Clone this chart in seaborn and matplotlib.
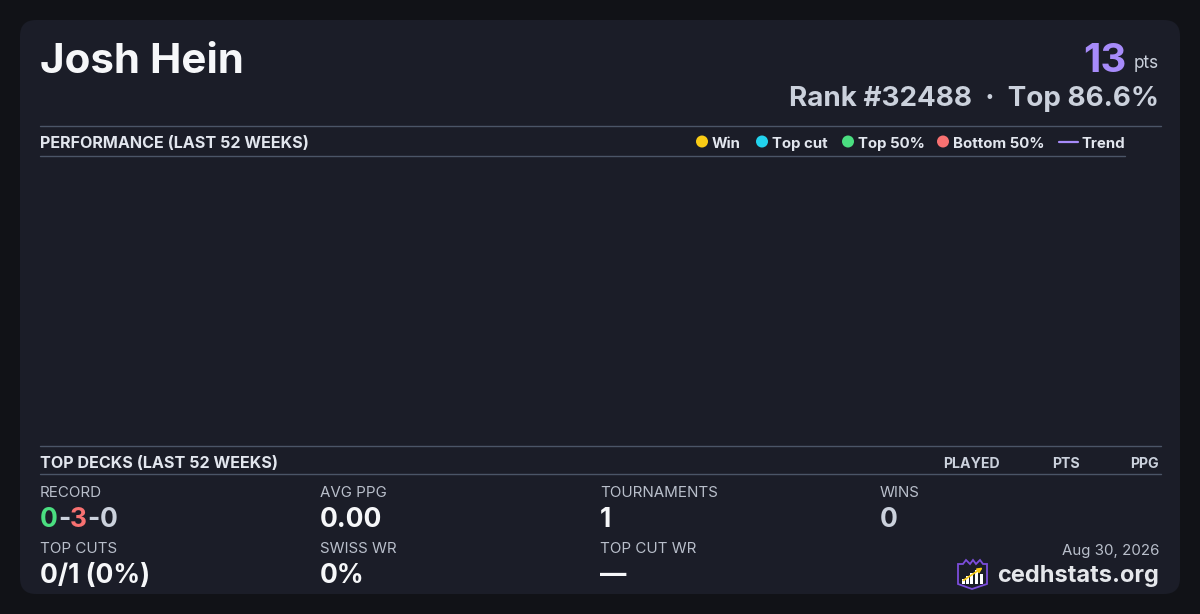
import numpy as np
import pandas as pd
import seaborn as sns
import matplotlib.pyplot as plt
from matplotlib.patches import FancyBboxPatch, Circle, Polygon, Rectangle

sns.set_theme(style="dark")
plt.rcParams['font.family'] = ['Inter', 'DejaVu Sans']

player_name = "Josh Hein"
points = 13
rank = 32488
top_pct = 86.6
card_date = "Aug 30, 2026"

# performance chart (nothing plotted in the last 52 weeks)
perf_weeks = []
perf_points = []

legend_labels = ["Win", "Top cut", "Top 50%", "Bottom 50%"]
legend_colors = ["#facc15", "#22d3ee", "#4ade80", "#f87171"]
trend_color = "#a78bfa"

deck_columns = ["PLAYED", "PTS", "PPG"]

record = [0, 3, 0]  # wins - losses - draws
record_colors = ["#4ade80", "#f87171", "#cbd1dc"]
stat_labels = ["AVG PPG", "TOURNAMENTS", "WINS", "TOP CUTS", "SWISS WR", "TOP CUT WR"]
stat_values = ["0.00", "1", "0", "0/1 (0%)", "0%", "\u2014"]

bg = "#111217"
card = "#1b1d28"
line_col = "#4b5567"
muted = "#b9bfcb"
light = "#cbd1dc"
white = "#f6f7f9"

fig = plt.figure(figsize=(12, 6.14), dpi=100, facecolor=bg)
ax = fig.add_axes([0, 0, 1, 1])
ax.set_xlim(0, 1200)
ax.set_ylim(614, 0)
ax.axis("off")

ax.add_patch(FancyBboxPatch((20, 20), 1160, 574, boxstyle="round,pad=0,rounding_size=16",
                            facecolor=card, edgecolor="none"))

# header
ax.text(40, 73, player_name, fontsize=30.3, fontweight="bold", color=white, va="baseline")
ax.text(1159, 68, "pts", fontsize=12.3, color=light, ha="right", va="baseline")
ax.text(1127, 72, str(points), fontsize=29, fontweight="bold", color=trend_color,
        ha="right", va="baseline")
ax.text(1159, 106, f"Rank #{rank}  \u00b7  Top {top_pct}%", fontsize=20, fontweight="bold",
        color=light, ha="right", va="baseline")

# performance section
ax.plot([40, 1161], [126, 126], color=line_col, lw=1)
ax.plot([40, 1125], [156, 156], color=line_col, lw=1)
ax.text(40, 148, "PERFORMANCE (LAST 52 WEEKS)", fontsize=11.6, fontweight="bold",
        color="#e2e6ee", va="baseline")

legend_x = [702, 762, 848, 943]
for lx, lab, col in zip(legend_x, legend_labels, legend_colors):
    ax.add_patch(Circle((lx, 141.5), 6, facecolor=col, edgecolor="none"))
    ax.text(lx + 10, 148, lab, fontsize=10.8, fontweight="bold", color="#e2e6ee", va="baseline")
ax.plot([1059, 1078], [142, 142], color=trend_color, lw=1.6)
ax.text(1081, 148, "Trend", fontsize=10.8, fontweight="bold", color="#e2e6ee", va="baseline")

# empty performance plot area
pax = fig.add_axes([40 / 1200, (614 - 440) / 614, 1085 / 1200, 275 / 614])
pax.set_facecolor(card)
perf = pd.DataFrame({"week": perf_weeks, "points": perf_points})
if len(perf):
    sns.scatterplot(data=perf, x="week", y="points", ax=pax)
pax.axis("off")

# top decks section
ax.plot([40, 1161], [446, 446], color=line_col, lw=1)
ax.plot([40, 1161], [474, 474], color=line_col, lw=1)
ax.text(40, 468, "TOP DECKS (LAST 52 WEEKS)", fontsize=11.6, fontweight="bold",
        color="#e2e6ee", va="baseline")
for cx, name in zip([1000, 1080, 1159], deck_columns):
    ax.text(cx, 468, name, fontsize=10.2, fontweight="bold", color=light, ha="right", va="baseline")

# stats
col_x = [40, 320, 600, 880]
label_y = [497, 553]
value_y = [527, 583]

ax.text(40, label_y[0], "RECORD", fontsize=10.9, color=muted, va="baseline")
prev = ax.text(40, value_y[0], str(record[0]), fontsize=19, fontweight="bold",
               color=record_colors[0], va="baseline")
for val, col in zip(record[1:], record_colors[1:]):
    dash = ax.annotate("-", xy=(1, 0), xycoords=prev, fontsize=19, fontweight="bold",
                       color=light, va="bottom")
    prev = ax.annotate(str(val), xy=(1, 0), xycoords=dash, fontsize=19, fontweight="bold",
                       color=col, va="bottom")

slots = [(1, 0), (2, 0), (3, 0), (0, 1), (1, 1), (2, 1)]
for (ci, ri), lab, val in zip(slots, stat_labels, stat_values):
    ax.text(col_x[ci], label_y[ri], lab, fontsize=10.9, color=muted, va="baseline")
    vcol = light if lab == "WINS" else white
    ax.text(col_x[ci], value_y[ri], val, fontsize=19, fontweight="bold", color=vcol, va="baseline")

# footer
ax.text(1159, 555, card_date, fontsize=10.8, color=muted, ha="right", va="baseline")
ax.text(1159, 582, "cedhstats.org", fontsize=17, fontweight="bold", color="#e5e7eb",
        ha="right", va="baseline")

# logo
shield = Polygon([(958, 564), (963, 564), (966, 560), (970, 564), (973, 560), (976, 564),
                  (980, 560), (983, 564), (987, 564), (987, 584), (972, 589), (958, 584)],
                 closed=True, facecolor="#1b1d28", edgecolor="#7c4ddb", lw=1.3)
ax.add_patch(shield)
for bx, bh in [(962, 5), (966, 8), (970, 11), (975, 14), (980, 10)]:
    ax.add_patch(Rectangle((bx, 584 - bh), 3, bh, facecolor="white", edgecolor="none"))
ax.annotate("", xy=(985, 566), xytext=(961, 582),
            arrowprops=dict(arrowstyle="-|>", color="#facc15", lw=1.2, mutation_scale=7))

fig.savefig("out.png", dpi=100, facecolor=bg)
